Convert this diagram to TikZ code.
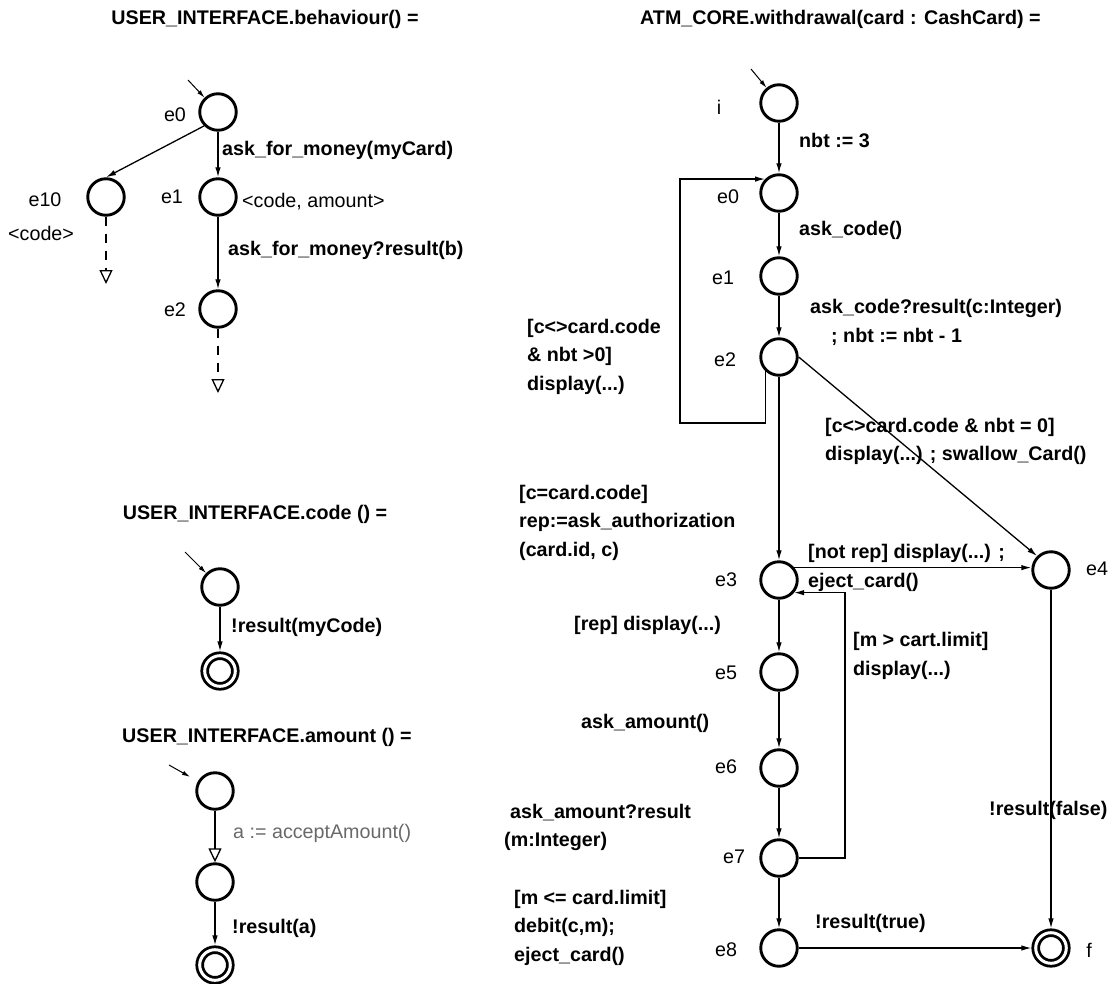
\documentclass[tikz,border=0pt]{standalone}
\usepackage{fontspec}
\setmainfont{Liberation Sans}
\usetikzlibrary{arrows.meta}
\definecolor{notegray}{RGB}{105,105,105}
\begin{document}
\begin{tikzpicture}[x=1pt,y=-1pt]
  \useasboundingbox (0,0) rectangle (1110,984);  % Rand wie Vorlage.
  \tikzstyle{state}=[circle,draw,line width=2.9pt,minimum size=36.5pt,inner sep=0pt]
  \tikzstyle{final}=[circle,draw,double,line width=2.8pt,double distance=3pt,minimum size=30.6pt,inner sep=0pt,outer sep=4.3pt]
  \tikzstyle{lbl}=[inner sep=0pt,font=\fontsize{19.7pt}{28.5pt}\selectfont]
  \tikzstyle{act}=[inner sep=0pt,font=\fontsize{19.7pt}{28.5pt}\selectfont\bfseries,anchor=west,align=left]
  \tikzstyle{edge}=[line width=1.3pt,-{Latex[length=10pt,width=5.5pt]}]
  \tikzstyle{init}=[line width=1pt,-{Latex[length=8pt,width=4.5pt]}]
  \tikzstyle{hollow}=[line width=1.3pt,-{Triangle[open,length=14pt,width=13pt]}]
  \tikzstyle{later}=[hollow,dash pattern=on 9pt off 8pt]

  % USER_INTERFACE.behaviour
  \node[act,anchor=center] (t1) at (265,19) {USER\_INTERFACE.behaviour() =};
  \node[state] (b0)  at (218,112) {};
  \node[state] (b10) at (106,197) {};
  \node[state] (b1)  at (218,197) {};
  \node[state] (b2)  at (218,309) {};
  \coordinate (b0in) at (188,80);
  \coordinate (b10x) at (106,284);
  \coordinate (b2x)  at (218,393);
  \node[lbl] (lb0)  at (175,115) {e0};
  \node[lbl] (lb10) at (45,200)  {e10};
  \node[lbl] (lb1)  at (172,197) {e1};
  \node[lbl] (lb2)  at (175,310) {e2};
  \node[lbl,anchor=west] (vb10) at (8,233)   {<code>};
  \node[lbl,anchor=west] (vb1)  at (242,202) {<code, amount>};
  \node[act] (ab1) at (222,150) {ask\_for\_money(myCard)};
  \node[act] (ab2) at (228,250) {ask\_for\_money?result(b)};

  \draw[init] (b0in) -- (b0);
  \draw[edge] (b0.225) -- (b10.north);
  \draw[edge] (b0) -- (b1);
  \draw[edge] (b1) -- (b2);
  \draw[later] (b10) -- (b10x);
  \draw[later] (b2) -- (b2x);

  % USER_INTERFACE.code
  \node[act,anchor=center] (t2) at (255,514) {USER\_INTERFACE.code () =};
  \node[state] (c0) at (220,587) {};
  \node[final] (c1) at (220,671) {};
  \coordinate (c0in) at (185,552);
  \node[act] (ac1) at (231,627) {!result(myCode)};
  \draw[init] (c0in) -- (c0);
  \draw[edge] (c0) -- (c1);

  % USER_INTERFACE.amount
  \node[act,anchor=center] (t3) at (267,737) {USER\_INTERFACE.amount () =};
  \node[state] (a0) at (215,791) {};
  \node[state] (a1) at (215,882) {};
  \node[final] (a2) at (215,965) {};
  \coordinate (a0in) at (169,765);
  \node[lbl,anchor=west,text=notegray] (aa1) at (233,833) {a := acceptAmount()};
  \node[act] (aa2) at (232,928) {!result(a)};
  \draw[init,shorten >=9pt] (a0in) -- (a0);
  \draw[hollow] (a0) -- (a1);
  \draw[edge] (a1) -- (a2);

  % ATM_CORE.withdrawal
  \node[act] (t4) at (640,19) {ATM\_CORE.withdrawal(card : CashCard) =};
  \node[state] (i)  at (779,103) {};
  \node[state] (e0) at (779,193) {};
  \node[state] (e1) at (779,276) {};
  \node[state] (e2) at (779,357) {};
  \node[state] (e3) at (779,580) {};
  \node[state] (e4) at (1051,570) {};
  \node[state] (e5) at (779,672) {};
  \node[state] (e6) at (779,768) {};
  \node[state] (e7) at (779,858) {};
  \node[state] (e8) at (779,948) {};
  \node[final] (f)  at (1051,948) {};
  \coordinate (iin)  at (751,69);
  \coordinate (loop) at (680,423);
  \coordinate (back) at (845,720);

  \node[lbl] (li)  at (719,107) {i};
  \node[lbl] (le0) at (728,197) {e0};
  \node[lbl] (le1) at (723,278) {e1};
  \node[lbl] (le2) at (725,360) {e2};
  \node[lbl] (le3) at (726,580) {e3};
  \node[lbl] (le4) at (1097,569) {e4};
  \node[lbl] (le5) at (726,673) {e5};
  \node[lbl] (le6) at (726,767) {e6};
  \node[lbl] (le7) at (734,857) {e7};
  \node[lbl] (le8) at (726,950) {e8};
  \node[lbl] (lf)  at (1089,950) {f};

  \node[act] (w1)  at (799,140) {nbt := 3};
  \node[act] (w2)  at (799,230) {ask\_code()};
  \node[act] (w3)  at (810,322.5) {ask\_code?result(c:Integer)\\\hspace*{21pt}; nbt := nbt - 1};
  \node[act] (w4)  at (527,356.5) {[c<>card.code\\\& nbt >0]\\display(...)};
  \node[act] (w5)  at (825,441.5) {[c<>card.code \& nbt = 0]\\display(...) ; swallow\_Card()};
  \node[act] (w6)  at (519,522.5) {[c=card.code]\\rep:=ask\_authorization\\(card.id, c)};
  \node[act] (w7)  at (808,568) {[not rep] display(...) ;\\eject\_card()};
  \node[act] (w8)  at (574,625) {[rep] display(...)};
  \node[act] (w9)  at (853,656) {[m > cart.limit]\\display(...)};
  \node[act] (w10) at (581,723) {ask\_amount()};
  \node[act] (w11) at (504,827.5) {\hspace*{6pt}ask\_amount?result\\(m:Integer)};
  \node[act] (w12) at (514,927.5) {[m <= card.limit]\\debit(c,m);\\eject\_card()};
  \node[act] (w13) at (815,923) {!result(true)};
  \node[act] (w14) at (989,810) {!result(false)};

  \draw[init] (iin) -- (i);
  \draw[edge] (i) -- (e0);
  \draw[edge] (e0) -- (e1);
  \draw[edge] (e1) -- (e2);
  \draw[edge] (e2.227) |- (loop) |- (e0.135);
  \draw[edge] (e2) -- (e3);
  \draw[edge] (e2.east) -- (e4.135);
  \draw[edge] (e3.39) -- (e3.39 -| e4.west);
  \draw[edge] (e3) -- (e5);
  \draw[edge] (e5) -- (e6);
  \draw[edge] (e6) -- (e7);
  \draw[edge] (e7) -- (e8);
  \draw[edge] (e7.east) -| (back) |- (e3.-40);
  \draw[edge] (e8) -- (f);
  \draw[edge] (e4) -- (f);
\end{tikzpicture}
\end{document}
